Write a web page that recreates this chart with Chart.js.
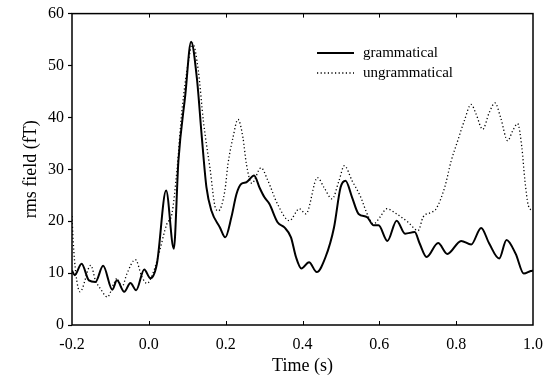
<!DOCTYPE html>
<html><head><meta charset="utf-8">
<script src="https://cdn.jsdelivr.net/npm/chart.js@4/dist/chart.umd.min.js"></script>
<style>html,body{margin:0;padding:0;background:#fff}#wrap{width:553px;height:388px}</style>
</head><body><div id="wrap"><canvas id="c" width="553" height="388"></canvas></div>
<script>
const seriesNames = ['grammatical', 'ungrammatical'];
const xTickValues = [-0.2, 0.0, 0.2, 0.4, 0.6, 0.8, 1.0];
const yTickValues = [0, 10, 20, 30, 40, 50, 60];

const gramTime = [-0.200,-0.193,-0.175,-0.156,-0.139,-0.119,-0.095,-0.083,-0.064,-0.048,-0.033,-0.012,0.004,0.021,0.045,0.065,0.077,0.095,0.110,0.125,0.138,0.150,0.163,0.185,0.199,0.215,0.228,0.241,0.254,0.274,0.288,0.301,0.314,0.335,0.353,0.370,0.383,0.397,0.417,0.437,0.460,0.482,0.499,0.512,0.529,0.546,0.568,0.585,0.598,0.621,0.645,0.667,0.692,0.705,0.723,0.753,0.777,0.813,0.839,0.865,0.886,0.912,0.931,0.955,0.976,0.994,1.000];
const gramField = [10.5,9.6,11.8,8.6,8.3,11.4,6.8,8.6,6.4,8.1,6.7,10.7,9.0,11.8,25.9,14.7,31.6,44.4,54.6,47.6,36.1,26.5,22.0,18.8,16.9,20.8,25.2,27.2,27.5,28.8,26.5,24.6,23.3,19.8,18.8,16.9,13.1,10.9,12.1,10.2,13.1,18.8,26.5,27.8,24.6,21.4,20.8,19.2,19.2,16.2,20.1,17.6,17.9,15.7,13.1,15.8,13.7,16.2,15.5,18.7,15.7,12.8,16.4,13.7,9.9,10.4,10.5];

const ungramTime = [-0.200,-0.197,-0.190,-0.179,-0.151,-0.139,-0.126,-0.108,-0.091,-0.083,-0.070,-0.057,-0.035,-0.018,-0.005,0.012,0.026,0.047,0.060,0.073,0.086,0.103,0.114,0.129,0.142,0.159,0.174,0.181,0.198,0.206,0.219,0.232,0.245,0.254,0.268,0.292,0.310,0.335,0.366,0.392,0.409,0.439,0.456,0.477,0.495,0.509,0.529,0.550,0.572,0.585,0.602,0.619,0.645,0.675,0.701,0.714,0.735,0.748,0.770,0.787,0.804,0.821,0.839,0.852,0.869,0.886,0.901,0.916,0.934,0.947,0.960,0.971,0.979,0.988,1.000];
const ungramField = [21,16.3,9.9,6.4,11.5,8.6,7.0,5.4,8.0,9.0,7.3,9.9,12.6,9.3,8.0,10.2,13.7,19.5,21.4,29.7,41.2,50.8,54.3,48.9,39.3,30.3,22.4,22.0,25.9,31.0,36.1,39.6,36.1,31.0,27.3,30.3,27.8,23.3,20.1,22.4,21.4,28.4,26.5,24.3,27.8,30.7,27.8,24.9,20.8,19.5,20.8,22.4,21.4,19.8,18.2,20.8,21.7,22.4,26.5,31.6,35.5,39.3,42.5,40.6,37.7,40.9,42.8,39.9,35.5,37.4,38.8,34.2,27.8,23.0,22.0];

const FAMILY = '"Liberation Serif", "Times New Roman", serif';
const TICK_FONT = {family: FAMILY, size: 16};
const TITLE_FONT = {family: FAMILY, size: 18};
const LEGEND_FONT = {family: FAMILY, size: 15};

const framePlugin = {
  id: 'frame',
  afterDraw(chart) {
    const {ctx, chartArea: a, scales} = chart;
    ctx.save();
    ctx.strokeStyle = '#000';
    ctx.lineWidth = 1.5;
    ctx.strokeRect(a.left, a.top, a.right - a.left, a.bottom - a.top);
    ctx.lineWidth = 1;
    ctx.beginPath();
    xTickValues.forEach(v => {
      const px = Math.round(scales.x.getPixelForValue(v)) + 0.5;
      if (px <= a.left + 2 || px >= a.right - 2) return;
      ctx.moveTo(px, a.bottom); ctx.lineTo(px, a.bottom - 4);
      ctx.moveTo(px, a.top); ctx.lineTo(px, a.top + 4);
    });
    ctx.stroke();
    // legend
    const lx0 = 317, lx1 = 354, tx = 363;
    const ys = [53, 73];
    ctx.font = LEGEND_FONT.size + 'px ' + LEGEND_FONT.family;
    ctx.fillStyle = '#000';
    ctx.textBaseline = 'middle';
    chart.data.datasets.forEach((ds, i) => {
      ctx.beginPath();
      ctx.lineWidth = ds.borderWidth;
      ctx.setLineDash(ds.borderDash || []);
      ctx.moveTo(lx0, ys[i]); ctx.lineTo(lx1, ys[i]);
      ctx.stroke();
      ctx.setLineDash([]);
      ctx.fillText(ds.label, tx, ys[i]);
    });
    ctx.restore();
  }
};

new Chart(document.getElementById('c').getContext('2d'), {
  type: 'line',
  data: {
    datasets: [
      {
        label: seriesNames[0],
        data: gramTime.map((t, i) => ({x: t, y: gramField[i]})),
        borderColor: '#000', borderWidth: 2, pointRadius: 0,
        cubicInterpolationMode: 'monotone', fill: false
      },
      {
        label: seriesNames[1],
        data: ungramTime.map((t, i) => ({x: t, y: ungramField[i]})),
        borderColor: '#000', borderWidth: 1.3, borderDash: [1.2, 2.4], pointRadius: 0,
        cubicInterpolationMode: 'monotone', fill: false
      }
    ]
  },
  options: {
    responsive: false,
    animation: false,
    layout: {padding: {left: 0, right: 16, top: 12, bottom: 0}},
    plugins: {legend: {display: false}, tooltip: {enabled: false}},
    scales: {
      x: {
        type: 'linear', min: -0.2, max: 1.0,
        afterBuildTicks: s => { s.ticks = xTickValues.map(v => ({value: v})); },
        afterFit: s => { s.height = 63; },
        ticks: {callback: v => Number(v).toFixed(1), font: TICK_FONT, color: '#000', padding: 10, maxRotation: 0, autoSkip: false},
        grid: {display: true, drawOnChartArea: false, drawTicks: false},
        border: {display: false},
        title: {display: true, text: 'Time (s)', font: TITLE_FONT, color: '#000', padding: {top: 0, bottom: 11}}
      },
      y: {
        type: 'linear', min: 0, max: 60,
        afterBuildTicks: s => { s.ticks = yTickValues.map(v => ({value: v})); },
        afterFit: s => { s.width = 72; },
        ticks: {font: TICK_FONT, color: '#000', padding: 4},
        grid: {display: true, drawOnChartArea: false, drawTicks: true, tickLength: 4, tickColor: '#000', tickWidth: 1.2},
        border: {display: false},
        title: {display: true, text: 'rms field (fT)', font: TITLE_FONT, color: '#000', padding: {top: 20, bottom: 0}}
      }
    }
  },
  plugins: [framePlugin]
});
</script>
</body></html>
